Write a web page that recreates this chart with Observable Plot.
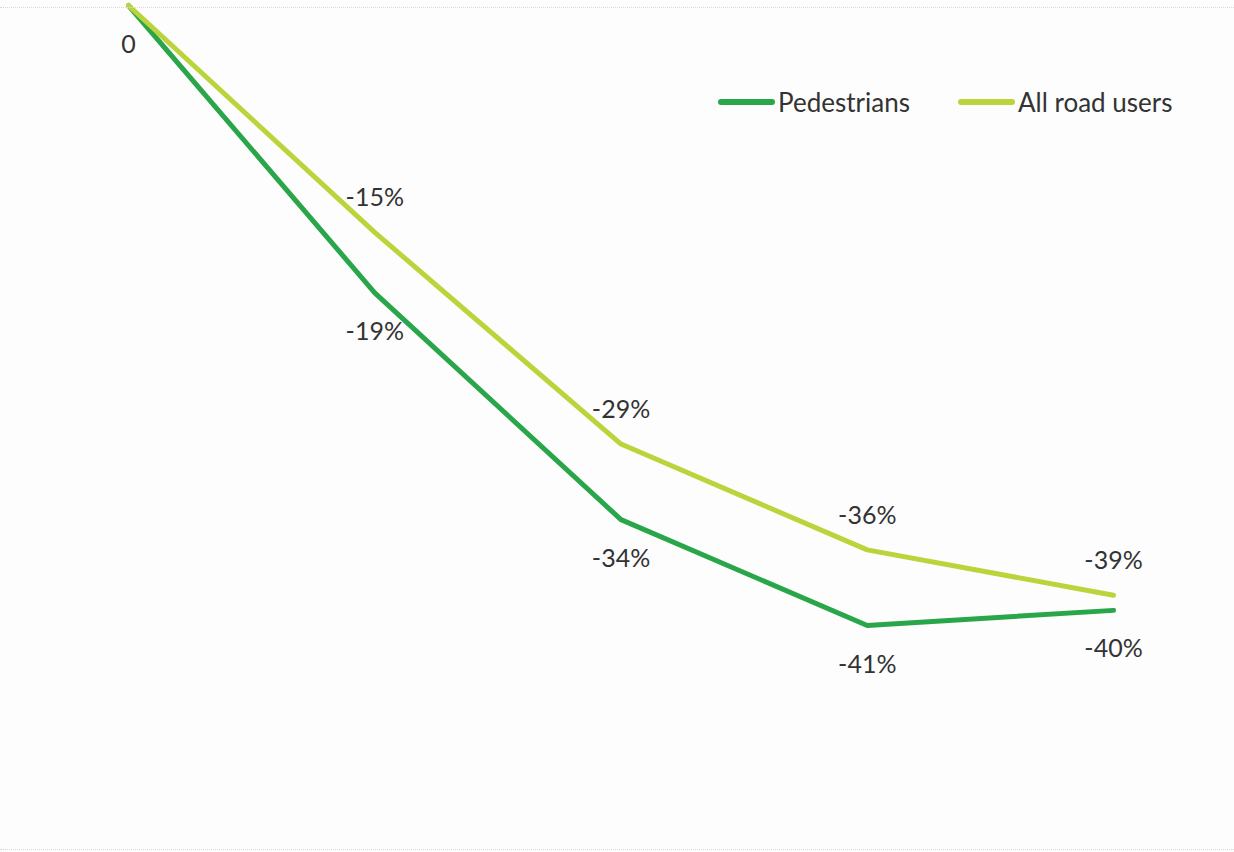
<!DOCTYPE html>
<html>
<head>
<meta charset="utf-8">
<script src="https://cdn.jsdelivr.net/npm/d3@7"></script>
<script src="https://cdn.jsdelivr.net/npm/@observablehq/plot@0.6"></script>
<style>
  html, body { margin: 0; padding: 0; background: #fdfdfd; }
  #wrap { position: relative; width: 1234px; height: 852px; overflow: hidden; font-family: Lato, "Open Sans", sans-serif; }
  #topline { position: absolute; left: 0; top: 7px; width: 1234px; height: 0; border-top: 1px dotted #d8d8d8; }
  #botline { position: absolute; left: 0; top: 849px; width: 1234px; height: 0; border-top: 1px dotted #d8d8d8; }
  .legend { position: absolute; top: 86px; display: flex; align-items: center; font-size: 26px; color: #333; }
  .sw { width: 57px; height: 6px; border-radius: 3px; margin-right: 3px; }
</style>
</head>
<body>
<div id="wrap">
  <div id="chart"></div>
  <div id="topline"></div>
  <div id="botline"></div>
  <div id="legend"></div>
</div>
<script>
// Data
const steps = [0, 1, 2, 3, 4];
const pedestrians = [0, -19, -34, -41, -40];
const allRoadUsers = [0, -15, -29, -36, -39];
const seriesNames = ["Pedestrians", "All road users"];
const seriesColors = ["#2aa64a", "#bcd43c"];

const rows = [];
steps.forEach((s, i) => {
  rows.push({step: s, value: pedestrians[i], series: seriesNames[0]});
  rows.push({step: s, value: allRoadUsers[i], series: seriesNames[1]});
});
const pedRows = rows.filter(d => d.series === seriesNames[0]);
const allRows = rows.filter(d => d.series === seriesNames[1] && d.value !== 0);
const fmt = v => v === 0 ? "0" : `${v}%`;

const chart = Plot.plot({
  width: 1234,
  height: 852,
  marginLeft: 128,
  marginRight: 121,
  marginTop: 5,
  marginBottom: 227,
  style: {background: "transparent", fontFamily: "Lato, 'Open Sans', sans-serif"},
  x: {domain: [0, 4], axis: null},
  y: {domain: [-41, 0], axis: null},
  color: {domain: seriesNames, range: seriesColors},
  marks: [
    Plot.line(pedRows, {x: "step", y: "value", stroke: "series", strokeWidth: 5, strokeLinejoin: "round"}),
    Plot.line(rows.filter(d => d.series === seriesNames[1]), {x: "step", y: "value", stroke: "series", strokeWidth: 5, strokeLinejoin: "round"}),
    Plot.text(pedRows, {x: "step", y: "value", text: d => fmt(d.value), dy: 39, fontSize: 25, fill: "#333"}),
    Plot.text(allRows, {x: "step", y: "value", text: d => fmt(d.value), dy: -34, fontSize: 25, fill: "#333"})
  ]
});
document.getElementById("chart").appendChild(chart);

// Legend (inside the plot area, top right)
const legendX = [718, 958];
const lg = document.getElementById("legend");
seriesNames.forEach((name, i) => {
  const item = document.createElement("div");
  item.className = "legend";
  item.style.left = legendX[i] + "px";
  const sw = document.createElement("div");
  sw.className = "sw";
  sw.style.background = seriesColors[i];
  const t = document.createElement("span");
  t.textContent = name;
  item.appendChild(sw);
  item.appendChild(t);
  lg.appendChild(item);
});
</script>
</body>
</html>
